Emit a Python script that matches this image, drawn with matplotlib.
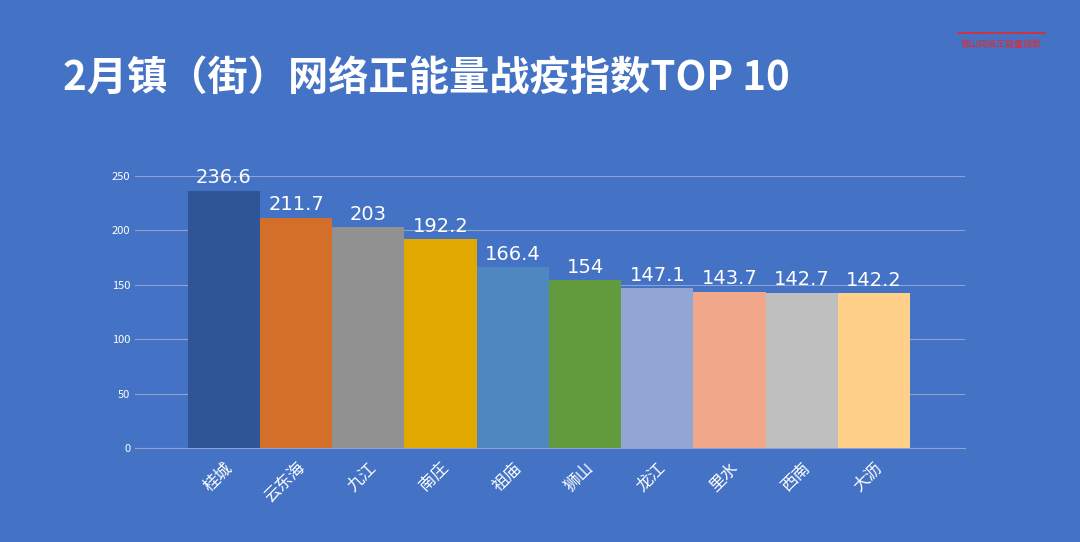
import matplotlib.pyplot as plt

plt.rcParams['font.family'] = ['Noto Sans CJK SC', 'DejaVu Sans']

towns = ['桂城', '云东海', '九江', '南庄', '祖庙', '狮山', '龙江', '里水', '西南', '大沥']
scores = [236.6, 211.7, 203, 192.2, 166.4, 154, 147.1, 143.7, 142.7, 142.2]
colors = ['#2f5597', '#d46f2a', '#919191', '#e0a800', '#4f88c0', '#629a3e',
          '#92a6d6', '#f0a78a', '#bfbfbf', '#ffd08a']
bg = '#4472c4'

fig = plt.figure(figsize=(10.8, 5.42), dpi=100, facecolor=bg)
ax = fig.add_axes([0.125, 0.1734, 0.7685, 0.502], facecolor=bg)

x = range(len(towns))
ax.bar(x, scores, width=1.0, color=colors, zorder=3)
for i, v in zip(x, scores):
    ax.text(i, v + 3, f'{v:g}', ha='center', va='bottom', color='white', fontsize=14,
            family='DejaVu Sans')

ax.set_xlim(-1.23, 10.26)
ax.set_ylim(0, 250)
ax.set_yticks(range(0, 251, 50))
ax.grid(axis='y', color='#8ea3cf', linewidth=0.8, zorder=0)
ax.set_xticks(list(x))
ax.set_xticklabels(towns, rotation=45, ha='right', rotation_mode='anchor', color='white', fontsize=12)
ax.tick_params(axis='y', colors='white', labelsize=8, length=0)
ax.tick_params(axis='x', length=0, pad=8)
for s in ['top', 'right', 'left']:
    ax.spines[s].set_visible(False)
ax.spines['bottom'].set_color('#8ea3cf')

fig.text(0.058, 0.855, '2月镇（街）网络正能量战疫指数TOP 10', color='white',
         fontsize=29, fontweight='bold', va='center')
fig.text(0.927, 0.918, '佛山网络正能量指数', color='#e8282b', fontsize=6.5, ha='center', va='center')
fig.add_artist(plt.Line2D([0.887, 0.968], [0.94, 0.94], color='#e8282b', linewidth=1.2))

fig.savefig('out.png', dpi=100, facecolor=bg)
